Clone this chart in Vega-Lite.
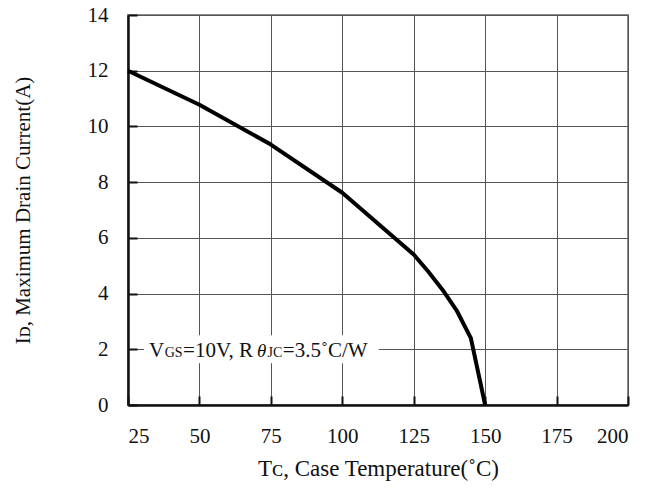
{
  "$schema": "https://vega.github.io/schema/vega-lite/v6.json",
  "autosize": {"type": "none"},
  "padding": {"left": 128, "top": 15, "right": 32, "bottom": 85},
  "width": 500,
  "height": 390,
  "background": "white",
  "config": {
    "font": "Liberation Serif",
    "view": {"stroke": "#8a8a8a", "strokeWidth": 2},
    "axis": {
      "labelFont": "Liberation Serif",
      "titleFont": "Liberation Serif",
      "labelFontSize": 21,
      "titleFontSize": 21,
      "labelColor": "#111",
      "titleColor": "#111",
      "titleFontWeight": "normal",
      "domainColor": "#111",
      "domainWidth": 2.5,
      "grid": true,
      "gridColor": "#555",
      "gridWidth": 1,
      "gridOpacity": 1,
      "tickColor": "#111",
      "tickWidth": 2,
      "tickSize": -9
    }
  },
  "datasets": {
    "curve": [
      {"tc": 25, "id": 12.0},
      {"tc": 50, "id": 10.78},
      {"tc": 75, "id": 9.35},
      {"tc": 100, "id": 7.62},
      {"tc": 125, "id": 5.4},
      {"tc": 130, "id": 4.8},
      {"tc": 135, "id": 4.15},
      {"tc": 140, "id": 3.4},
      {"tc": 145, "id": 2.4},
      {"tc": 150, "id": 0.0}
    ],
    "single": [{}]
  },
  "layer": [
    {
      "data": {"name": "single"},
      "mark": {"type": "rect", "fill": "white", "stroke": null},
      "encoding": {
        "x": {"datum": 30.6, "type": "quantitative", "scale": {"domain": [25, 200], "nice": false, "zero": false},
          "axis": {"values": [25, 50, 75, 100, 125, 150, 175, 200], "title": "Tᴄ, Case Temperature(˚C)", "titleFontSize": 23, "labelPadding": 29, "titlePadding": 11, "grid": true}},
        "x2": {"datum": 112.8},
        "y": {"datum": 1.5, "type": "quantitative", "scale": {"domain": [0, 14], "nice": false},
          "axis": {"values": [0, 2, 4, 6, 8, 10, 12, 14], "title": "Iᴅ, Maximum Drain Current(A)", "labelPadding": 29, "titlePadding": 54, "grid": true}},
        "y2": {"datum": 2.5}
      }
    },
    {
      "data": {"name": "curve"},
      "mark": {"type": "line", "color": "black", "strokeWidth": 4, "strokeJoin": "round"},
      "encoding": {
        "x": {"field": "tc", "type": "quantitative"},
        "y": {"field": "id", "type": "quantitative"}
      }
    },
    {
      "data": {"name": "single"},
      "mark": {"type": "text", "text": "V", "align": "left", "baseline": "alphabetic", "fontSize": 21, "color": "#111"},
      "encoding": {"x": {"datum": 32.35, "type": "quantitative"}, "y": {"datum": 1.72, "type": "quantitative"}}
    },
    {
      "data": {"name": "single"},
      "mark": {"type": "text", "text": "GS", "align": "left", "baseline": "alphabetic", "fontSize": 14, "color": "#111"},
      "encoding": {"x": {"datum": 37.85, "type": "quantitative"}, "y": {"datum": 1.72, "type": "quantitative"}}
    },
    {
      "data": {"name": "single"},
      "mark": {"type": "text", "text": "=10V, R", "align": "left", "baseline": "alphabetic", "fontSize": 21, "color": "#111"},
      "encoding": {"x": {"datum": 44.29, "type": "quantitative"}, "y": {"datum": 1.72, "type": "quantitative"}}
    },
    {
      "data": {"name": "single"},
      "mark": {"type": "text", "text": "θ", "align": "left", "baseline": "alphabetic", "fontSize": 19, "fontStyle": "italic", "color": "#111"},
      "encoding": {"x": {"datum": 70.19, "type": "quantitative"}, "y": {"datum": 1.72, "type": "quantitative"}}
    },
    {
      "data": {"name": "single"},
      "mark": {"type": "text", "text": "JC", "align": "left", "baseline": "alphabetic", "fontSize": 14, "color": "#111"},
      "encoding": {"x": {"datum": 73.86, "type": "quantitative"}, "y": {"datum": 1.72, "type": "quantitative"}}
    },
    {
      "data": {"name": "single"},
      "mark": {"type": "text", "text": "=3.5˚C/W", "align": "left", "baseline": "alphabetic", "fontSize": 21, "color": "#111"},
      "encoding": {"x": {"datum": 79.18, "type": "quantitative"}, "y": {"datum": 1.72, "type": "quantitative"}}
    }
  ]
}
